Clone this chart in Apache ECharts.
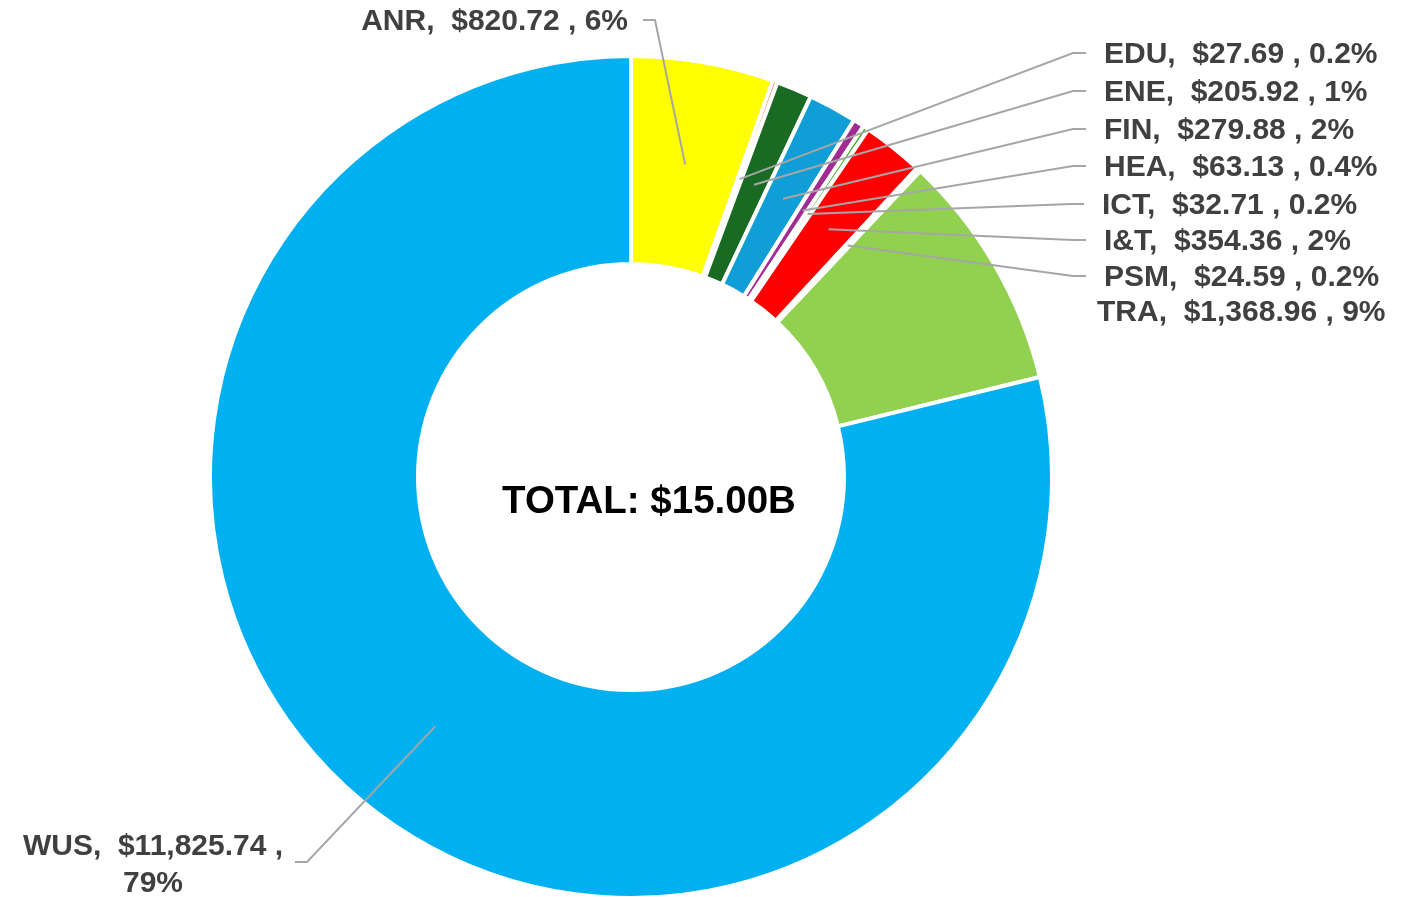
<!DOCTYPE html>
<html>
<head>
<meta charset="utf-8">
<title>Total by sector</title>
<script src="https://cdn.jsdelivr.net/npm/echarts@6/dist/echarts.min.js"></script>
<style>
  html, body { margin: 0; padding: 0; background: #fff; }
  #chart { width: 1409px; height: 897px; }
</style>
</head>
<body>
<div id="chart"></div>
<script>
// data (values in $M)
const sectors = ['ANR', 'EDU', 'ENE', 'FIN', 'HEA', 'ICT', 'I&T', 'PSM', 'TRA', 'WUS'];
const amounts = [820.72, 27.69, 205.92, 279.88, 63.13, 32.71, 354.36, 24.59, 1368.96, 11825.74];
const pctLabels = ['6%', '0.2%', '1%', '2%', '0.4%', '0.2%', '2%', '0.2%', '9%', '79%'];
const totalLabel = 'TOTAL: $15.00B';

const colors = ['#FFFF00', '#E97132', '#196B24', '#0F9ED5', '#A02B93', '#4EA72E', '#FF0000', '#F4B183', '#92D050', '#00B0F0'];

// where each label sits: [x, y, align]
const labelPos = [
  [628, 20, 'right'],
  [1104, 53, 'left'],
  [1104, 91, 'left'],
  [1104, 129, 'left'],
  [1104, 166, 'left'],
  [1102, 204, 'left'],
  [1104, 240, 'left'],
  [1104, 276, 'left'],
  [1097, 311, 'left'],
  [153, 863, 'center']
];

const cx = 631, cy = 477, rIn = 213, rOut = 421;
const anchorR = 317;

function money(v) {
  return '$' + v.toLocaleString('en-US', { minimumFractionDigits: 2, maximumFractionDigits: 2 });
}

// mid angle of every slice, clockwise from 12 o'clock
const total = amounts.reduce(function (s, v) { return s + v; }, 0);
const midAngle = [];
let run = 0;
amounts.forEach(function (v) {
  midAngle.push((run + v / 2) / total * Math.PI * 2);
  run += v;
});

const chart = echarts.init(document.getElementById('chart'));

const pieBase = {
  type: 'pie',
  center: [cx, cy],
  radius: [rIn, rOut],
  startAngle: 90,
  clockwise: true,
  avoidLabelOverlap: false
};

chart.setOption({
  animation: false,
  graphic: [{
    type: 'text',
    x: 649,
    y: 502,
    style: {
      text: totalLabel,
      align: 'center',
      verticalAlign: 'middle',
      fill: '#000',
      font: 'bold 38.5px "Liberation Sans", Arial, sans-serif'
    }
  }],
  series: [
    // the slices
    Object.assign({}, pieBase, {
      z: 2,
      itemStyle: { borderColor: '#fff', borderWidth: 4 },
      label: { show: false },
      labelLine: { show: false },
      data: sectors.map(function (name, i) {
        return { name: name, value: amounts[i], itemStyle: { color: colors[i] } };
      })
    }),
    // labels + leader lines on top of the slices
    Object.assign({}, pieBase, {
      z: 5,
      silent: true,
      itemStyle: { color: 'rgba(0,0,0,0)', borderWidth: 0 },
      label: {
        show: true,
        position: 'outside',
        color: '#404040',
        fontFamily: '"Liberation Sans", Arial, sans-serif',
        fontWeight: 'bold',
        fontSize: 30,
        lineHeight: 37,
        formatter: function (p) {
          if (p.dataIndex === 9) {
            return p.name + ',  ' + money(p.value) + ' ,\n' + pctLabels[p.dataIndex];
          }
          return p.name + ',  ' + money(p.value) + ' , ' + pctLabels[p.dataIndex];
        }
      },
      labelLine: {
        show: true,
        lineStyle: { color: '#A6A6A6', width: 2 }
      },
      labelLayout: function (params) {
        const i = params.dataIndex;
        const pos = labelPos[i];
        // text sits ~2px lower than its leader line end
        const out = { x: pos[0], y: pos[1] + 2, align: pos[2], verticalAlign: 'middle' };
        const a = [cx + anchorR * Math.sin(midAngle[i]), cy - anchorR * Math.cos(midAngle[i])];
        let elbow, end;
        if (pos[2] === 'left') {
          end = [pos[0] - 18, pos[1]];
          elbow = [pos[0] - 31, pos[1]];
        } else if (pos[2] === 'right') {
          end = [pos[0] + 15, pos[1]];
          elbow = [pos[0] + 27, pos[1]];
        } else {
          end = [295, 862];
          elbow = [307, 862];
        }
        out.labelLinePoints = [a, elbow, end];
        return out;
      },
      data: sectors.map(function (name, i) {
        const item = { name: name, value: amounts[i] };
        if (name === 'TRA') item.labelLine = { show: false };
        return item;
      })
    })
  ]
});
</script>
</body>
</html>
